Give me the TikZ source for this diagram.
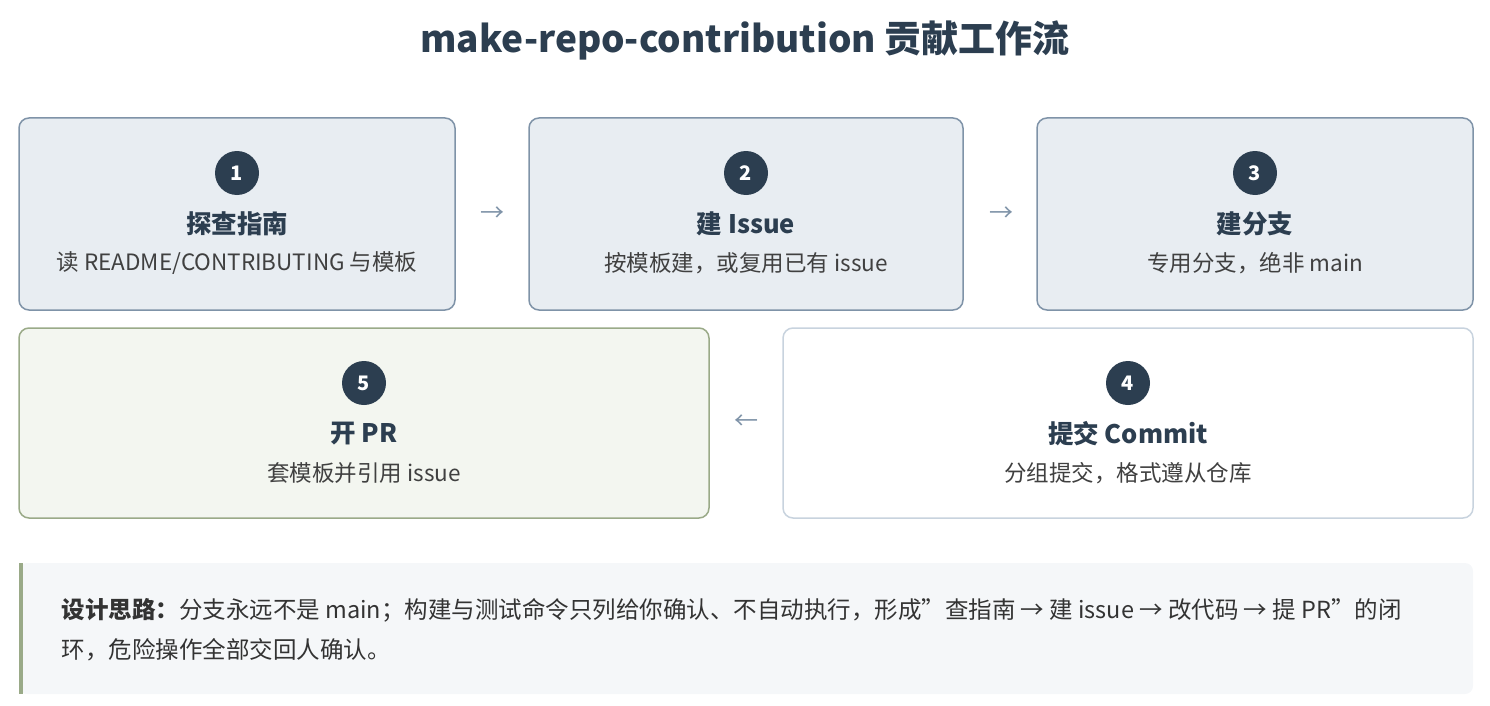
\documentclass[tikz,border=0pt]{standalone}
\usepackage{fontspec}
\setmainfont{Noto Sans CJK SC}
\usetikzlibrary{positioning}
\definecolor{ink}{HTML}{2C3E50}
\definecolor{edge}{HTML}{7F93A8}
\definecolor{pale}{HTML}{E8EDF2}
\definecolor{sage}{HTML}{9AAA88}
\definecolor{sagebg}{HTML}{F3F6F0}
\definecolor{soft}{HTML}{C8D3DE}
\definecolor{note}{HTML}{F5F7F9}
\tikzset{
  card/.style={draw=edge,fill=pale,rounded corners=10pt,line width=1.5pt},
  num/.style={circle,fill=ink,text=white,minimum size=44pt,inner sep=0pt,font=\fontsize{20}{20}\selectfont\bfseries},
  head/.style={text=ink,font=\fontsize{25.5}{25}\selectfont\bfseries},
  sub/.style={text=black!75,font=\fontsize{22.5}{22}\selectfont},
  arr/.style={text=edge,font=\fontsize{24}{24}\selectfont},
  line/.style={anchor=west,text=black!80,font=\fontsize{23.5}{23}\selectfont}
}
\begin{document}
\begin{tikzpicture}[x=1pt,y=-1pt]
\useasboundingbox (0,0) rectangle (1490,706);
\node[text=ink,font=\fontsize{37}{37}\selectfont\bfseries] (title) at (745,40) {make-repo-contribution 贡献工作流};
% top row
\draw[card] (19,118) rectangle (455,310);
\draw[card] (529,118) rectangle (963,310);
\draw[card] (1037,118) rectangle (1473,310);
% bottom row
\draw[card,draw=sage,fill=sagebg] (19,328) rectangle (709,518);
\draw[card,draw=soft,fill=white] (783,328) rectangle (1473,518);
\node[num] (n1) at (237,173) {1};
\node[head] (h1) at (237,224) {探查指南};
\node[sub] (s1) at (237,263) {读 README/CONTRIBUTING 与模板};
\node[num] (n2) at (746,173) {2};
\node[head] (h2) at (746,224) {建 Issue};
\node[sub] (s2) at (746,263) {按模板建，或复用已有 issue};
\node[num] (n3) at (1255,173) {3};
\node[head] (h3) at (1255,224) {建分支};
\node[sub] (s3) at (1255,263) {专用分支，绝非 main};
\node[num] (n4) at (1128,383) {4};
\node[head] (h4) at (1128,434) {提交 Commit};
\node[sub] (s4) at (1128,473) {分组提交，格式遵从仓库};
\node[num] (n5) at (364,383) {5};
\node[head] (h5) at (364,434) {开 PR};
\node[sub] (s5) at (364,473) {套模板并引用 issue};
\node[arr] (a12) at (492,214) {→};
\node[arr] (a23) at (1001,214) {→};
\node[arr] (a45) at (746,422) {←};
% note
\fill[note,rounded corners=8pt] (19,563) rectangle (1473,694);
\fill[sage] (19,563) rectangle (23,694);
\node[line] (l1) at (58,610) {\textbf{设计思路：}分支永远不是 main；构建与测试命令只列给你确认、不自动执行，形成\char34 查指南 → 建 issue → 改代码 → 提 PR\char34 的闭};
\node[line] (l2) at (58,650) {环，危险操作全部交回人确认。};
\end{tikzpicture}
\end{document}
